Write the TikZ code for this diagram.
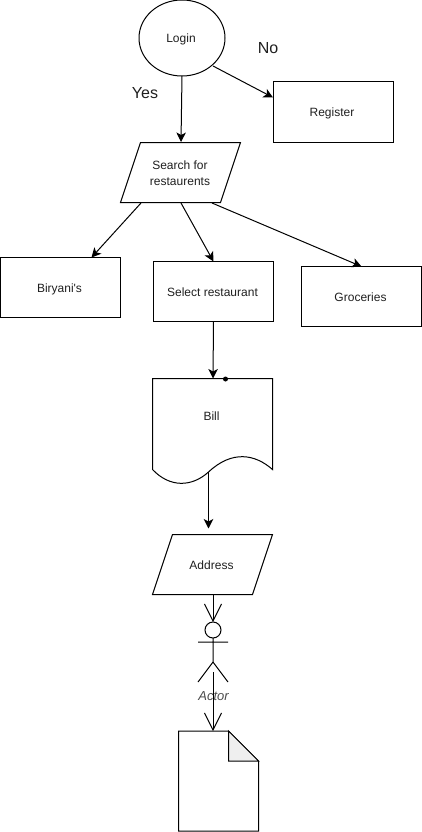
\documentclass[tikz,border=0pt]{standalone}
\usepackage{fontspec}
\setmainfont{Liberation Sans}
\usetikzlibrary{arrows.meta,calc,shapes.geometric}
\definecolor{inkc}{HTML}{000000}
\definecolor{foldc}{HTML}{EFEFEF}
\newcommand\tx[1]{\raisebox{-4.5pt}[0pt][0pt]{#1}\kern2pt}
\tikzset{
  x=1pt,y=-1pt,
  every node/.style={font=\fontsize{12}{16}\selectfont,text=black!88,inner sep=0pt,outer sep=0pt},
  boxn/.style={draw=inkc,line width=1pt,minimum width=120pt,minimum height=60pt},
  ovaln/.style={shape=ellipse,draw=inkc,line width=1pt,minimum width=86pt,minimum height=76pt},
  freen/.style={minimum width=120pt,minimum height=60pt,align=center},
  lbl/.style={font=\fontsize{16}{18}\selectfont},
  arr/.style={draw=inkc,line width=1pt,-{Stealth[length=9.5pt,width=9.5pt,inset=2.5pt]}},
  openarr/.style={draw=inkc,line width=1pt,-{Straight Barb[length=17pt,width=17pt]}},
  shp/.style={draw=inkc,line width=1pt},
}
\begin{document}
\begin{tikzpicture}
\useasboundingbox (0,0) rectangle (422,832);
% nodes
\node[ovaln] (login) at (182,38) {\tx{Login}};
\node[boxn] (register) at (333,112) {\tx{Register}};
\draw[shp] (140.5,142.5) -- (240.5,142.5) -- (220.5,202.5) -- (120.5,202.5) -- cycle;
\node[freen] (search) at (180,173) {Search for\\restaurents};
\node[boxn] (biryani) at (60.5,287.5) {\tx{Biryani\textquotesingle s}};
\node[boxn] (select) at (213.5,291.5) {\tx{Select restaurant}};
\node[boxn] (groceries) at (361.5,296.5) {\tx{Groceries}};
\node[freen] (bill) at (212.5,416) {\tx{Bill}};
\draw[shp] (172.5,534.5) -- (272.5,534.5) -- (252.5,594.5) -- (152.5,594.5) -- cycle;
\node[freen] (address) at (212.5,564.5) {\tx{Address}};
\node[lbl] (yes) at (145,93) {Yes};
\node[lbl] (no) at (268,48) {No};
% document shape
\draw[shp] (152.5,378.5) -- (272.5,378.5) -- (272.5,469.5)
  .. controls (255,454) and (232,450) .. (208.5,472) .. controls (192,487) and (170,488) .. (152.5,469.5) -- cycle;
\coordinate (billtop) at (213,378.5);
\coordinate (billbottom) at (208.5,472);
\node[circle,fill=inkc,minimum size=5pt] (dot) at (225.5,379) {};
% actor
\coordinate (head) at (213,622);
\node[circle,draw=inkc,line width=1pt,minimum size=16pt] (actorhead) at (213,630) {};
\coordinate (neck) at (213,638);
\coordinate (hip) at (213,662);
\coordinate (arml) at (198,642);
\coordinate (armr) at (228,642);
\coordinate (legl) at (198,682);
\coordinate (legr) at (228,682);
\draw[shp] (neck) -- (hip) (arml) -- (armr) (legl) -- (hip) -- (legr);
\node[font=\fontsize{13}{15}\selectfont\itshape,text=black!70] (actorlabel) at (213.5,696) {Actor};
% page
\node[minimum width=80pt,minimum height=100pt] (page) at (218.5,781) {};
\draw[shp] (178.5,731) -- (228.5,731) -- (258.5,761) -- (258.5,831) -- (178.5,831) -- cycle;
\draw[shp,fill=foldc] (228.5,731) -- (258.5,761) -- (228.5,761) -- cycle;
% connectors
\draw[arr] (login.south) -- ($(search.north)+(1,-1)$);
\draw[arr] ($(login.center)+(31,28)$) -- ($(register.north west)+(0,15.5)$);
\draw[arr] ($(search.south)+(-39,0)$) -- ($(biryani.north)+(31,0)$);
\draw[arr] ($(search.south)+(1,0)$) -- (select.north);
\draw[arr] ($(search.south)+(32,0)$) -- (groceries.north);
\draw[arr] (select.south) -- (billtop);
\draw[arr] (billbottom) -- ($(address.north)+(-4,-6)$);
\draw[openarr] ($(address.south)+(0.5,0)$) -- (head);
\draw[openarr] ($(hip)+(0,10)$) -- (page.north -| hip);
\end{tikzpicture}
\end{document}
